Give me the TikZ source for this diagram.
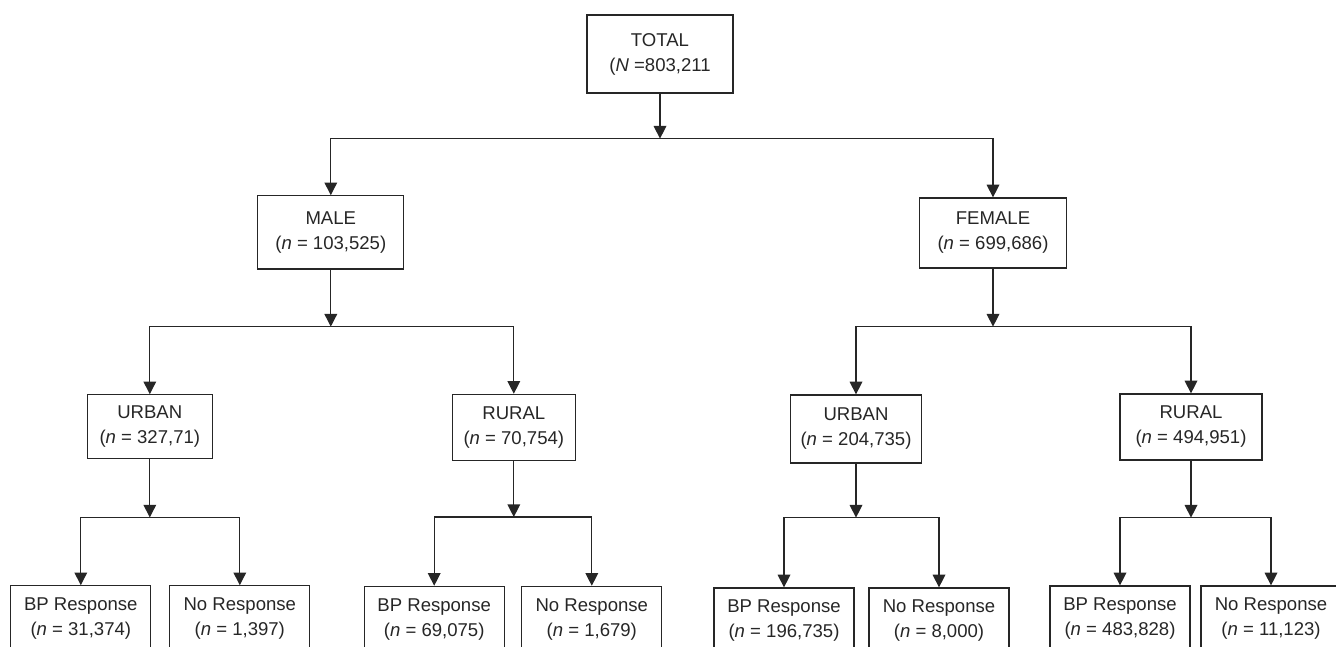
\documentclass[tikz,border=0pt]{standalone}
\usepackage{fontspec}
\setmainfont{Liberation Sans}
\usetikzlibrary{positioning, arrows.meta}

\begin{document}
\begin{tikzpicture}[
    on grid,
    >={Triangle[length=9pt, width=9pt]},
    every node/.style={font=\fontsize{13.2}{17.8}\selectfont, text=black!85},
    box/.style={draw=black!85, line width=0.9pt, align=center, inner sep=0pt},
    leaf/.style={box, minimum width=3.5cm, minimum height=1.65cm},
    link/.style={draw=black!85, line width=0.9pt}
]
    \path[use as bounding box, clip] (0,0) rectangle (33.4,-16.175);

    \node[box, minimum width=3.65cm, minimum height=1.95cm] (total) at (16.5,-1.35) {TOTAL\\(\textit{N} =803,211};
    \node[box, minimum width=3.65cm, minimum height=1.83cm] (male) [below left=4.46cm and 8.23cm of total] {MALE\\(\textit{n} = 103,525)};
    \node[box, minimum width=3.68cm, minimum height=1.75cm] (female) [below right=4.475cm and 8.325cm of total] {FEMALE\\(\textit{n} = 699,686)};

    \node[box, minimum width=3.13cm, minimum height=1.6cm] (murban) [below left=4.86cm and 4.525cm of male] {URBAN\\(\textit{n} = 327,71)};
    \node[box, minimum width=3.08cm, minimum height=1.65cm] (mrural) [below right=4.875cm and 4.575cm of male] {RURAL\\(\textit{n} = 70,754)};
    \node[box, minimum width=3.28cm, minimum height=1.7cm] (furban) [below left=4.9cm and 3.425cm of female] {URBAN\\(\textit{n} = 204,735)};
    \node[box, minimum width=3.55cm, minimum height=1.65cm] (frural) [below right=4.85cm and 4.95cm of female] {RURAL\\(\textit{n} = 494,951)};

    \node[leaf] (bpmu) [below left=4.8cm and 1.725cm of murban] {BP Response\\(\textit{n} = 31,374)};
    \node[leaf] (nomu) [below right=4.8cm and 2.25cm of murban] {No Response\\(\textit{n} = 1,397)};
    \node[leaf] (bpmr) [below left=4.8cm and 1.99cm of mrural] {BP Response\\(\textit{n} = 69,075)};
    \node[leaf] (nomr) [below right=4.8cm and 1.95cm of mrural] {No Response\\(\textit{n} = 1,679)};
    \node[leaf] (bpfu) [below left=4.8cm and 1.8cm of furban] {BP Response\\(\textit{n} = 196,735)};
    \node[leaf] (nofu) [below right=4.8cm and 2.075cm of furban] {No Response\\(\textit{n} = 8,000)};
    \node[leaf] (bpfr) [below left=4.8cm and 1.775cm of frural] {BP Response\\(\textit{n} = 483,828)};
    \node[leaf] (nofr) [below right=4.8cm and 2.0cm of frural] {No Response\\(\textit{n} = 11,123)};

    % parent -> fork -> two children
    \foreach \p/\a/\b/\h in {total/male/female/1.125, male/murban/mrural/1.425,
        female/furban/frural/1.45, murban/bpmu/nomu/1.45, mrural/bpmr/nomr/1.4,
        furban/bpfu/nofu/1.35, frural/bpfr/nofr/1.425} {
        \draw[link, ->] (\p.south) -- ++(0,-\h) coordinate (\p-fork);
        \draw[link, ->] (\p-fork) -| (\a);
        \draw[link, ->] (\p-fork) -| (\b);
    }
\end{tikzpicture}
\end{document}
